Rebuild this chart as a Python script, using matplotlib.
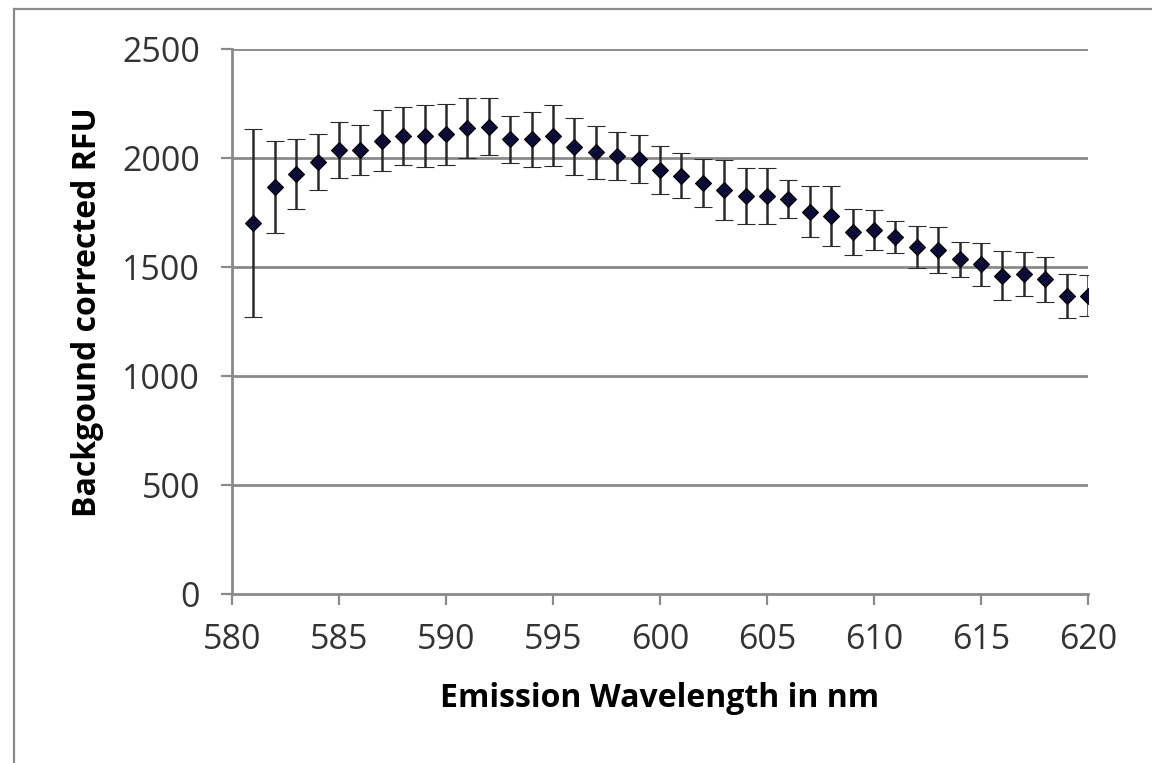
import numpy as np
import matplotlib
matplotlib.use("Agg")
import matplotlib.pyplot as plt
from matplotlib.lines import Line2D

plt.rcParams['font.family'] = ['Open Sans', 'DejaVu Sans']

# emission scan, mean and sd per wavelength
wavelength = [581, 582, 583, 584, 585, 586, 587, 588, 589, 590,
              591, 592, 593, 594, 595, 596, 597, 598, 599, 600,
              601, 602, 603, 604, 605, 606, 607, 608, 609, 610,
              611, 612, 613, 614, 615, 616, 617, 618, 619, 620]
rfu = [1703, 1868, 1927, 1983, 2037, 2037, 2080, 2101, 2101, 2108,
       2136, 2144, 2085, 2086, 2102, 2052, 2026, 2009, 1995, 1945,
       1919, 1887, 1853, 1827, 1827, 1812, 1754, 1734, 1659, 1670,
       1639, 1593, 1578, 1535, 1512, 1460, 1468, 1443, 1367, 1367]
rfu_sd = [431, 212, 162, 128, 127, 115, 140, 131, 141, 139,
          138, 130, 108, 126, 140, 130, 123, 112, 112, 111,
          104, 110, 138, 129, 129, 87, 117, 137, 105, 91,
          73, 96, 105, 79, 97, 112, 99, 105, 101, 94]

x_ticks = [580, 585, 590, 595, 600, 605, 610, 615, 620]
y_ticks = [0, 500, 1000, 1500, 2000, 2500]

fig = plt.figure(figsize=(11.52, 7.63), dpi=100)
ax = fig.add_axes([0.2014, 0.2215, 0.743, 0.7143])

grid_c = '#8a8a8a'
for y in y_ticks[1:]:
    ax.axhline(y, color=grid_c, lw=2.0, zorder=1)

ax.errorbar(wavelength, rfu, yerr=rfu_sd, fmt='D', ms=8.5,
            mfc='#0b0b35', mec='black', mew=0.8,
            ecolor='#2a2a2a', elinewidth=1.8, capsize=6.5, capthick=1.8,
            zorder=3)

ax.set_xlim(580, 620)
ax.set_ylim(0, 2500)
ax.set_xticks(x_ticks)
ax.set_yticks(y_ticks)

for side in ['top', 'right']:
    ax.spines[side].set_visible(False)
for side in ['left', 'bottom']:
    ax.spines[side].set_color(grid_c)
    ax.spines[side].set_linewidth(2.0)

ax.tick_params(axis='both', direction='out', length=8, width=1.6,
               color=grid_c, labelsize=24.5, labelcolor='#333333')
ax.tick_params(axis='x', pad=13)
ax.tick_params(axis='y', pad=15)

ax.set_xlabel('Emission Wavelength in nm', fontsize=23, fontweight='bold')
ax.set_ylabel('Backgound corrected RFU', fontsize=23, fontweight='bold')
ax.xaxis.set_label_coords(0.5, -0.162)
ax.yaxis.set_label_coords(-0.149, 0.518)

# outer frame of the chart area
fig.add_artist(Line2D([14 / 1152, 14 / 1152], [0, 1 - 9 / 763],
                      transform=fig.transFigure, color=grid_c, lw=1.6))
fig.add_artist(Line2D([14 / 1152, 1], [1 - 9 / 763, 1 - 9 / 763],
                      transform=fig.transFigure, color=grid_c, lw=1.6))

fig.savefig('out.png', dpi=100)
